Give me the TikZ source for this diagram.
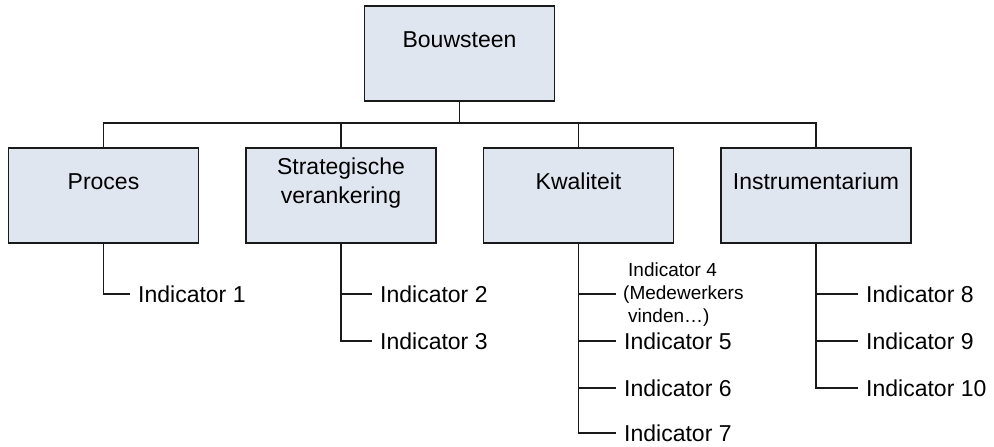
\documentclass[tikz,border=0pt]{standalone}
\usepackage{fontspec}
\setmainfont{Liberation Sans}
\definecolor{boxfill}{HTML}{DFE6F0}
\definecolor{edge}{HTML}{1A1A1A}
\begin{document}
\begin{tikzpicture}[x=1pt,y=-1pt,
  box/.style={draw=edge, fill=boxfill, line width=1.6pt,
    minimum width=190pt, minimum height=95pt, inner sep=0pt},
  boxtext/.style={font=\fontsize{23}{29}\selectfont, align=center, inner sep=0pt},
  ind/.style={font=\fontsize{23}{28}\selectfont, anchor=west,
    inner xsep=8pt, inner ysep=0pt},
  smallind/.style={font=\fontsize{19}{23}\selectfont, anchor=west, align=left,
    inner xsep=7pt, inner ysep=0pt},
  wire/.style={draw=edge, line width=1.6pt}]
\useasboundingbox (0,0) rectangle (994,447);

% boxes
\node[box] (top)   at (459.5,53.5) {};
\node[box] (proc)  at (103.5,195.5) {};
\node[box] (strat) at (341,195.5) {};
\node[box] (kwal)  at (578.5,195.5) {};
\node[box] (instr) at (816,195.5) {};

% box labels
\node[boxtext, anchor=base] (topT)   at (459.5,47)  {Bouwsteen};
\node[boxtext, anchor=base] (procT)  at (103.5,189) {Proces};
\node[boxtext]              (stratT) at (341,183)   {Strategische\\verankering};
\node[boxtext, anchor=base] (kwalT)  at (578.5,189) {Kwaliteit};
\node[boxtext, anchor=base] (instrT) at (816,189)   {Instrumentarium};

% indicators
\node[ind] (i1) at (130,294) {Indicator 1};
\node[ind] (i2) at (372,294) {Indicator 2};
\node[ind] (i3) at (372,341) {Indicator 3};
\node[smallind] (i4) at (616,295) {\hspace*{5pt}Indicator 4\\(Medewerkers\\\hspace*{5pt}vinden…)};
\node[ind] (i5) at (616,341) {Indicator 5};
\node[ind] (i6) at (616,388) {Indicator 6};
\node[ind] (i7) at (616,433) {Indicator 7};
\node[ind] (i8) at (858,294) {Indicator 8};
\node[ind] (i9) at (858,341) {Indicator 9};
\node[ind] (i10) at (858,388) {Indicator 10};

% tree connectors
\coordinate (bus) at (459.5,123);
\draw[wire] (top.south) -- (bus);
\draw[wire] (proc.north) -- (proc.north |- bus) -- (instr.north |- bus) -- (instr.north);
\draw[wire] (strat.north) -- (strat.north |- bus);
\draw[wire] (kwal.north) -- (kwal.north |- bus);

% indicator connectors
\draw[wire] (proc.south) |- (i1.west);
\draw[wire] (strat.south) |- (i3.west);
\draw[wire] (strat.south |- i2.west) -- (i2.west);
\draw[wire] (kwal.south) |- (i7.west);
\draw[wire] (kwal.south |- 0,294) -- (i4.west |- 0,294);
\draw[wire] (kwal.south |- i5.west) -- (i5.west);
\draw[wire] (kwal.south |- i6.west) -- (i6.west);
\draw[wire] (instr.south) |- (i10.west);
\draw[wire] (instr.south |- i8.west) -- (i8.west);
\draw[wire] (instr.south |- i9.west) -- (i9.west);
\end{tikzpicture}
\end{document}
